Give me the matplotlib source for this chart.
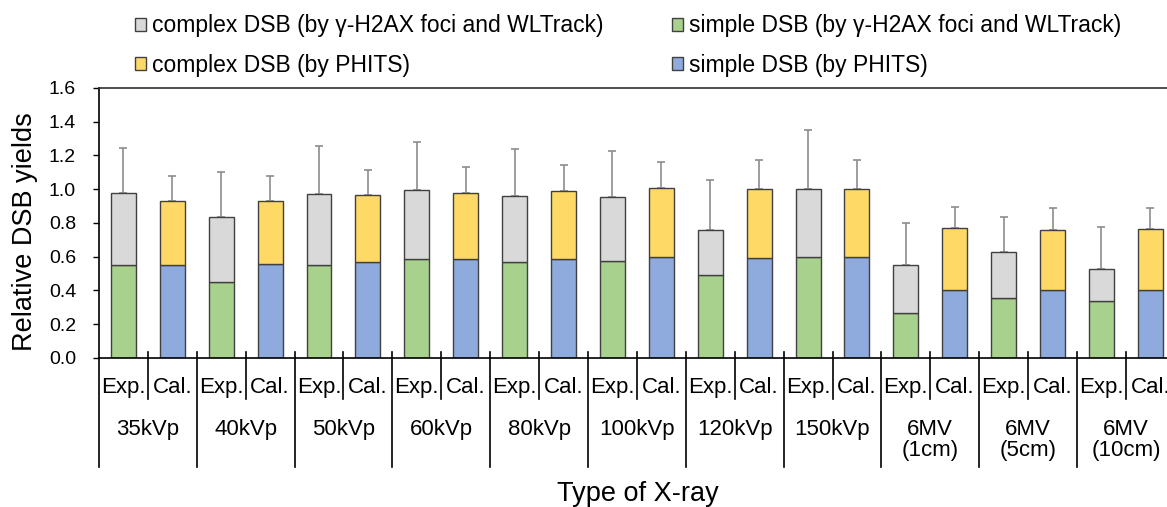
import matplotlib
matplotlib.use("Agg")
import matplotlib.pyplot as plt
import matplotlib.patches as mpatches
import numpy as np

plt.rcParams['font.family'] = ['Liberation Sans', 'DejaVu Sans']

groups = ['35kVp', '40kVp', '50kVp', '60kVp', '80kVp', '100kVp', '120kVp', '150kVp',
          '6MV\n(1cm)', '6MV\n(5cm)', '6MV\n(10cm)']
sub_labels = ['Exp.', 'Cal.']

# experiment (gamma-H2AX foci and WLTrack)
exp_simple = [0.553, 0.448, 0.553, 0.588, 0.569, 0.575, 0.492, 0.598, 0.268, 0.355, 0.339]
exp_complex = [0.425, 0.388, 0.421, 0.405, 0.393, 0.379, 0.268, 0.403, 0.285, 0.271, 0.188]
exp_sd = [0.266, 0.264, 0.284, 0.287, 0.274, 0.273, 0.292, 0.350, 0.249, 0.207, 0.249]

# calculation (PHITS)
cal_simple = [0.549, 0.559, 0.569, 0.584, 0.588, 0.598, 0.593, 0.598, 0.401, 0.401, 0.403]
cal_complex = [0.383, 0.373, 0.395, 0.394, 0.399, 0.407, 0.410, 0.403, 0.371, 0.359, 0.361]
cal_sd = [0.144, 0.144, 0.150, 0.152, 0.157, 0.158, 0.168, 0.174, 0.123, 0.131, 0.127]

c_gray = '#D9D9D9'
c_green = '#A9D18E'
c_yellow = '#FFD966'
c_blue = '#8FAADC'
edge = '#404040'

n = len(groups)
x_exp = np.arange(n) * 2
x_cal = x_exp + 1
w = 0.51

fig = plt.figure(figsize=(11.67, 5.07), dpi=100)
ax = fig.add_axes([0.0848, 0.294, 0.9219, 0.5325])

exp_tot = np.array(exp_simple) + np.array(exp_complex)
cal_tot = np.array(cal_simple) + np.array(cal_complex)

ax.bar(x_exp, exp_simple, w, color=c_green, edgecolor=edge, linewidth=1, zorder=2)
ax.bar(x_exp, exp_complex, w, bottom=exp_simple, color=c_gray, edgecolor=edge, linewidth=1, zorder=2)
ax.bar(x_cal, cal_simple, w, color=c_blue, edgecolor=edge, linewidth=1, zorder=2)
ax.bar(x_cal, cal_complex, w, bottom=cal_simple, color=c_yellow, edgecolor=edge, linewidth=1, zorder=2)

ax.errorbar(x_exp, exp_tot, yerr=[np.zeros(n), exp_sd], fmt='none', ecolor='#8C8C8C',
            elinewidth=1.2, capsize=3, capthick=1.2, zorder=1)
ax.errorbar(x_cal, cal_tot, yerr=[np.zeros(n), cal_sd], fmt='none', ecolor='#8C8C8C',
            elinewidth=1.2, capsize=3, capthick=1.2, zorder=1)

ax.set_xlim(-0.5, 2 * n - 0.5)
ax.set_ylim(0, 1.6)
ax.set_yticks(np.arange(0, 1.61, 0.2))
ax.set_yticklabels(['%.1f' % v for v in np.arange(0, 1.61, 0.2)])
ax.tick_params(axis='y', direction='out', length=4, width=1, pad=12.5, labelsize=14)
ax.set_xticks([])
for s in ax.spines.values():
    s.set_color('black')
    s.set_linewidth(1.2)
ax.spines['top'].set_color('#303030')

# category axis: sub labels, group labels and separators
tr = ax.get_xaxis_transform()
for i in range(n):
    ax.text(x_exp[i], -0.111, sub_labels[0], transform=tr, ha='center', va='center', fontsize=16)
    ax.text(x_cal[i], -0.111, sub_labels[1], transform=tr, ha='center', va='center', fontsize=16)
    ax.text(x_exp[i] + 0.5, -0.226, groups[i], transform=tr, ha='center', va='top',
            fontsize=16, linespacing=1.0)
    ax.plot([x_exp[i] + 0.5] * 2, [0.022, -0.152], transform=tr, color='black', lw=1.2, clip_on=False)
for b in range(n + 1):
    top = 0 if b == 0 else 0.022
    ax.plot([2 * b - 0.5] * 2, [top, -0.404], transform=tr, color='black', lw=1.2, clip_on=False)

fig.text(0.0214, 0.544, 'Relative DSB yields', rotation=90, ha='center', va='center', fontsize=19.5)
fig.text(0.547, 0.025, 'Type of X-ray', ha='center', va='center', fontsize=19.5)

handles = [
    mpatches.Patch(facecolor=c_gray, edgecolor=edge, label='complex DSB (by γ-H2AX foci and WLTrack)'),
    mpatches.Patch(facecolor=c_yellow, edgecolor=edge, label='complex DSB (by PHITS)'),
    mpatches.Patch(facecolor=c_green, edgecolor=edge, label='simple DSB (by γ-H2AX foci and WLTrack)'),
    mpatches.Patch(facecolor=c_blue, edgecolor=edge, label='simple DSB (by PHITS)'),
]
fig.legend(handles=handles, loc='upper left', bbox_to_anchor=(0.1157, 0.972), ncol=2,
           frameon=False, fontsize=16.5, handlelength=0.5, handleheight=0.5,
           handletextpad=0.23, columnspacing=3.0, labelspacing=0.72,
           borderpad=0, borderaxespad=0)

fig.savefig('out.png', dpi=100)
